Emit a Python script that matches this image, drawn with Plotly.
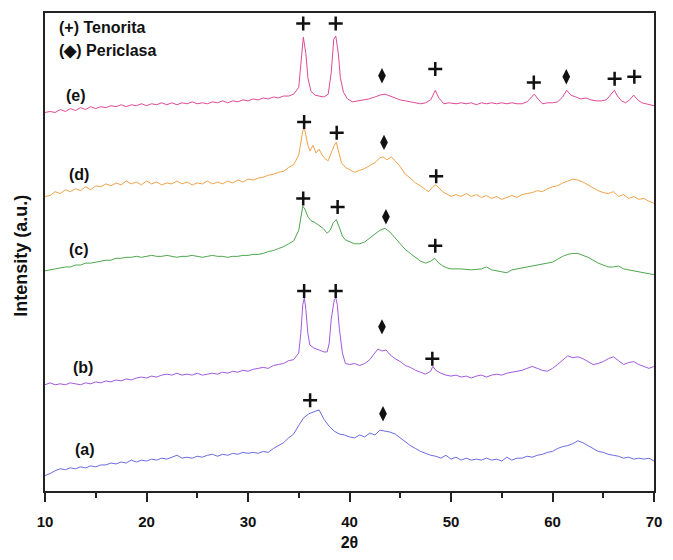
import plotly.graph_objects as go

# ---------------- data (2theta in degrees, intensity in a.u.) ----------------
A_2T = [10, 10.5, 11, 11.5, 12, 12.5, 13, 13.5, 14, 14.5, 15, 15.5, 16, 16.5, 17, 17.5, 18, 18.5, 19, 19.5,
        20, 20.5, 21, 21.5, 22, 22.5, 23, 23.5, 24, 24.5, 25, 25.5, 26, 26.5, 27, 27.5, 28, 28.5, 29, 29.5,
        30, 30.5, 31, 31.5, 32, 32.5, 33, 33.5, 34, 34.5, 35, 35.5, 36, 36.5, 37, 37.5, 38, 38.5, 39, 39.5,
        40, 40.5, 41, 41.5, 42, 42.5, 43, 43.5, 44, 44.5, 45, 45.5, 46, 46.5, 47, 47.5, 48, 48.5, 49, 49.5,
        50, 50.5, 51, 51.5, 52, 52.5, 53, 53.5, 54, 54.5, 55, 55.5, 56, 56.5, 57, 57.5, 58, 58.5, 59, 59.5,
        60, 60.5, 61, 61.5, 62, 62.5, 63, 63.5, 64, 64.5, 65, 65.5, 66, 66.5, 67, 67.5, 68, 68.5, 69, 69.5, 70]
A_INT = [16, 18, 21, 23, 22, 24, 23, 25, 24, 26, 25, 27, 27, 29, 28, 30, 29, 32, 30, 32,
         31, 33, 32, 34, 33, 35, 37, 34, 35, 34, 36, 35, 37, 38, 36, 38, 37, 39, 38, 40,
         39, 40, 39, 41, 40, 44, 47, 50, 55, 59, 68, 76, 80, 82, 84, 74, 67, 62, 59, 58,
         56, 55, 58, 56, 60, 58, 63, 62, 61, 59, 55, 51, 47, 44, 41, 39, 37, 36, 34, 37,
         33, 35, 32, 34, 32, 33, 32, 34, 32, 33, 31, 35, 32, 34, 34, 36, 35, 37, 38, 40,
         41, 44, 46, 47, 49, 52, 50, 47, 44, 41, 40, 38, 37, 36, 34, 35, 33, 34, 33, 34, 31]

B_2T = [10, 10.5, 11, 11.5, 12, 12.5, 13, 13.5, 14, 14.5, 15, 15.5, 16, 16.5, 17, 17.5, 18, 18.5, 19, 19.5,
        20, 20.5, 21, 21.5, 22, 22.5, 23, 23.5, 24, 24.5, 25, 25.5, 26, 26.5, 27, 27.5, 28, 28.5, 29, 29.5,
        30, 30.5, 31, 31.5, 32, 32.5, 33, 33.5, 34, 34.5, 35, 35.2, 35.4, 35.55, 35.7, 35.9, 36.1, 36.5, 37, 37.5,
        37.8, 38.0, 38.2, 38.5, 38.65, 38.8, 39.0, 39.3, 39.6, 40, 40.5, 41, 41.5, 42, 42.5, 42.8, 43.2, 43.6, 44, 44.5,
        45, 45.5, 46, 46.5, 47, 47.5, 48, 48.2, 48.5, 49, 49.5, 50, 50.5, 51, 51.5, 52, 52.5, 53, 53.5, 54,
        54.5, 55, 55.5, 56, 56.5, 57, 57.5, 58, 58.5, 59, 59.5, 60, 60.5, 61, 61.5, 62, 62.5, 63, 63.5, 64,
        64.5, 65, 65.5, 66, 66.5, 67, 67.5, 68, 68.5, 69, 69.5, 70]
B_INT = [110, 112, 110, 111, 110, 112, 111, 110, 112, 111, 113, 112, 114, 113, 115, 114, 116, 115, 117, 118,
         117, 119, 118, 120, 121, 120, 122, 120, 121, 120, 122, 120, 121, 122, 121, 123, 122, 124, 123, 125,
         124, 126, 127, 128, 127, 130, 131, 132, 135, 136, 143, 163, 193, 200, 188, 163, 151, 148, 146, 144,
         144, 153, 178, 198, 200, 193, 168, 143, 132, 131, 132, 130, 132, 136, 143, 147, 145, 146, 141, 137,
         134, 130, 128, 125, 123, 121, 124, 129, 125, 122, 120, 119, 120, 118, 119, 117, 119, 120, 118, 120,
         121, 120, 122, 123, 124, 125, 127, 129, 127, 125, 124, 127, 131, 136, 140, 138, 139, 137, 134, 131,
         132, 134, 137, 139, 135, 131, 133, 134, 131, 129, 127, 129]

C_2T = [10, 10.5, 11, 11.5, 12, 12.5, 13, 13.5, 14, 14.5, 15, 15.5, 16, 16.5, 17, 17.5, 18, 18.5, 19, 19.5,
        20, 20.5, 21, 21.5, 22, 22.5, 23, 23.5, 24, 24.5, 25, 25.5, 26, 26.5, 27, 27.5, 28, 28.5, 29, 29.5,
        30, 30.5, 31, 31.5, 32, 32.5, 33, 33.5, 34, 34.5, 35, 35.2, 35.4, 35.6, 35.9, 36.2, 36.6, 37, 37.4, 37.8,
        38.1, 38.4, 38.7, 39, 39.3, 39.6, 40, 40.5, 41, 41.5, 42, 42.5, 43, 43.5, 44, 44.5, 45, 45.5, 46, 46.5,
        47, 47.5, 48, 48.4, 48.8, 49.2, 49.6, 50, 51, 52, 53, 53.5, 54, 55, 55.5, 56, 57, 58, 59, 59.5,
        60, 60.5, 61, 61.5, 62, 62.5, 63, 63.5, 64, 64.5, 65, 65.5, 66, 66.5, 67, 68, 69, 69.5, 70]
C_INT = [228, 229, 230, 231, 232, 232, 234, 234, 236, 236, 237, 238, 239, 239, 241, 241, 242, 242, 243, 242,
         243, 244, 243, 243, 244, 243, 242, 243, 243, 244, 243, 242, 243, 244, 243, 243, 242, 243, 243, 244,
         244, 245, 245, 246, 248, 249, 251, 253, 256, 259, 270, 283, 295, 292, 284, 280, 278, 275, 272, 267,
         270, 278, 281, 273, 264, 260, 258, 256, 256, 258, 262, 266, 270, 272, 268, 262, 256, 250, 246, 242,
         238, 236, 238, 241, 236, 233, 231, 230, 230, 229, 230, 232, 229, 227, 226, 229, 231, 233, 235, 236,
         237, 240, 243, 245, 246, 246, 244, 242, 239, 236, 234, 232, 232, 233, 230, 228, 226, 225, 224]

D_2T = [10, 10.5, 11, 11.5, 12, 12.5, 13, 13.5, 14, 14.5, 15, 15.5, 16, 16.5, 17, 17.5, 18, 18.5, 19, 19.5,
        20, 20.5, 21, 21.5, 22, 22.5, 23, 23.5, 24, 24.5, 25, 25.5, 26, 26.5, 27, 27.5, 28, 28.5, 29, 29.5,
        30, 30.5, 31, 31.5, 32, 32.5, 33, 33.5, 34, 34.5, 35, 35.2, 35.4, 35.55, 35.7, 35.9, 36.1, 36.4, 36.7, 37,
        37.3, 37.6, 37.9, 38.2, 38.5, 38.7, 38.9, 39.2, 39.6, 40, 40.5, 41, 41.5, 42, 42.5, 43, 43.3, 43.7, 44.1, 44.5,
        45, 45.5, 46, 46.5, 47, 47.5, 47.8, 48.2, 48.5, 48.9, 49.3, 49.7, 50, 50.5, 51, 51.5, 52, 52.5, 53, 53.5,
        54, 54.5, 55, 55.5, 56, 56.5, 57, 57.5, 58, 58.5, 59, 59.5, 60, 60.5, 61, 61.5, 62, 62.5, 63, 63.5,
        64, 64.5, 65, 65.5, 66, 66.5, 67, 67.5, 68, 68.5, 69, 69.5, 70]
D_INT = [305, 306, 310, 308, 312, 310, 313, 311, 315, 312, 316, 315, 318, 316, 319, 317, 321, 318, 320, 317,
         321, 318, 320, 317, 319, 318, 321, 318, 320, 317, 319, 318, 321, 318, 320, 318, 321, 319, 322, 320,
         323, 322, 324, 325, 327, 328, 330, 331, 335, 338, 348, 360, 373, 376, 368, 358, 352, 358, 350, 354,
         348, 344, 342, 350, 358, 361, 353, 340, 335, 333, 330, 332, 334, 337, 340, 345, 346, 343, 346, 342,
         336, 328, 324, 319, 316, 312, 310, 315, 317, 313, 309, 307, 305, 307, 305, 308, 305, 307, 304, 306,
         303, 305, 302, 304, 306, 304, 307, 308, 309, 311, 310, 313, 315, 316, 319, 321, 323, 322, 320, 317,
         314, 311, 309, 308, 310, 305, 307, 303, 305, 302, 303, 300, 298]

E_2T = [10, 10.5, 11, 11.5, 12, 12.5, 13, 13.5, 14, 14.5, 15, 15.5, 16, 16.5, 17, 17.5, 18, 18.5, 19, 19.5,
        20, 20.5, 21, 21.5, 22, 22.5, 23, 23.5, 24, 24.5, 25, 25.5, 26, 26.5, 27, 27.5, 28, 28.5, 29, 29.5,
        30, 30.5, 31, 31.5, 32, 32.5, 33, 33.5, 34, 34.5, 35, 35.2, 35.45, 35.7, 35.9, 36.2, 36.6, 37, 37.5, 37.9,
        38.2, 38.45, 38.65, 38.9, 39.1, 39.4, 39.8, 40.3, 40.8, 41.3, 41.9, 42.5, 43, 43.5, 44, 44.5, 45, 45.5, 46, 46.5,
        47, 47.5, 48, 48.45, 48.8, 49.3, 49.8, 50.5, 51, 51.5, 52, 52.5, 53, 53.5, 54, 54.5, 55, 55.5, 56, 56.5,
        57, 57.5, 58, 58.2, 58.5, 59, 59.5, 60, 60.5, 61, 61.4, 61.8, 62.3, 62.8, 63.3, 63.8, 64.3, 64.8, 65.3, 65.8,
        66.1, 66.4, 66.8, 67.2, 67.6, 68, 68.4, 68.8, 69.3, 69.7, 70]
E_INT = [392, 393, 392, 395, 393, 396, 394, 397, 395, 398, 396, 398, 397, 399, 398, 400, 398, 400, 399, 401,
         399, 401, 400, 402, 400, 402, 400, 402, 401, 403, 401, 402, 401, 403, 402, 404, 402, 404, 403, 405,
         404, 406, 405, 407, 406, 408, 407, 409, 409, 411, 418, 443, 470, 453, 428, 414, 410, 409, 408, 411,
         433, 468, 471, 453, 428, 413, 406, 403, 404, 405, 406, 408, 410, 411, 409, 407, 405, 404, 403, 402,
         401, 402, 405, 415, 407, 401, 402, 401, 402, 401, 402, 400, 402, 401, 402, 401, 402, 401, 402, 401,
         401, 403, 409, 411, 407, 401, 402, 402, 403, 408, 415, 410, 408, 406, 407, 405, 404, 404, 405, 411,
         415, 409, 404, 402, 405, 410, 405, 402, 401, 400, 399]

SAMPLE_LABELS = ["(a)", "(b)", "(c)", "(d)", "(e)"]
SAMPLE_COLORS = ["#6b6be0", "#a259dc", "#4ea64e", "#eea34a", "#dd4a96"]

# phase reflection markers (position of the symbol above each peak)
TENORITA_2T = [35.44, 38.64, 48.45, 58.16, 66.12, 68.06,
               35.53, 38.74, 48.54,
               35.44, 38.83, 48.45,
               35.53, 38.64, 48.16,
               36.12]
TENORITA_INT = [484, 484, 437, 423, 427, 429,
                382, 371, 326,
                303, 294, 254,
                207, 207, 137,
                94]
PERICLASA_2T = [43.20, 61.36, 43.40, 43.59, 43.20, 43.30]
PERICLASA_INT = [430, 429, 361, 284, 170, 80]

X_TICKS = [10, 20, 30, 40, 50, 60, 70]

# ---------------- figure ----------------
FONT = "Liberation Sans, Arial, sans-serif"
fig = go.Figure()

series = [(A_2T, A_INT), (B_2T, B_INT), (C_2T, C_INT), (D_2T, D_INT), (E_2T, E_INT)]
for (xs, ys), name, col in zip(series, SAMPLE_LABELS, SAMPLE_COLORS):
    fig.add_trace(go.Scatter(x=xs, y=ys, mode="lines", name=name,
                             line=dict(color=col, width=1), showlegend=False))

fig.add_trace(go.Scatter(x=TENORITA_2T, y=TENORITA_INT, mode="markers", showlegend=False,
                         marker=dict(symbol="cross-thin", size=10,
                                     line=dict(width=2.5, color="#111"), color="#111")))
fig.add_trace(go.Scatter(x=PERICLASA_2T, y=PERICLASA_INT, mode="markers", showlegend=False,
                         marker=dict(symbol="diamond-tall", size=11, color="#111")))

# sample labels
label_pos = [(13.9, 43), (13.7, 128), (13.3, 250), (13.3, 328), (13.1, 410)]
for (lx, ly), txt in zip(label_pos, SAMPLE_LABELS):
    fig.add_annotation(x=lx, y=ly, text=txt, showarrow=False,
                       font=dict(family=FONT, size=16, color="#111", weight="bold"))

# phase key
fig.add_annotation(xref="paper", yref="paper", x=(57 - 45) / 617, y=(508 - 28) / 495,
                   xanchor="left", yanchor="middle", text="(+) Tenorita", showarrow=False,
                   font=dict(family=FONT, size=16, color="#111", weight="bold"))
fig.add_annotation(xref="paper", yref="paper", x=(57 - 45) / 617, y=(508 - 52) / 495,
                   xanchor="left", yanchor="middle", text="(\u25c6) Periclasa", showarrow=False,
                   font=dict(family=FONT, size=16, color="#111", weight="bold"))

# y-axis title
fig.add_annotation(xref="paper", yref="paper", x=(21 - 45) / 617, y=(508 - 264) / 495,
                   xanchor="center", yanchor="middle", text="Intensity (a.u.)", textangle=-90,
                   showarrow=False, font=dict(family=FONT, size=18, color="#111", weight="bold"))

fig.update_layout(
    width=673, height=560, autosize=False,
    margin=dict(l=45, r=11, t=13, b=52),
    paper_bgcolor="white", plot_bgcolor="white",
    font=dict(family=FONT, color="#111"),
    xaxis=dict(range=[10, 70], tickvals=X_TICKS, ticktext=[str(v) for v in X_TICKS],
               ticks="outside", ticklen=9, tickwidth=1.5, tickcolor="#222",
               ticklabelstandoff=7,
               minor=dict(dtick=5, tick0=10, ticks="outside", ticklen=5, tickwidth=1.5, tickcolor="#222"),
               showline=True, linecolor="#222", linewidth=1.5, mirror=True,
               showgrid=False, zeroline=False,
               tickfont=dict(family=FONT, size=15, color="#111", weight="bold"),
               title=dict(text="2\u03b8", standoff=8,
                          font=dict(family=FONT, size=16, color="#111", weight="bold"))),
    yaxis=dict(range=[0, 495], showticklabels=False, ticks="",
               showline=True, linecolor="#222", linewidth=1.5, mirror=True,
               showgrid=False, zeroline=False),
)

fig.write_html("out.html",
               config={"responsive": False, "displayModeBar": False},
               post_script="document.body.style.margin='0';document.body.style.overflow='hidden';")
